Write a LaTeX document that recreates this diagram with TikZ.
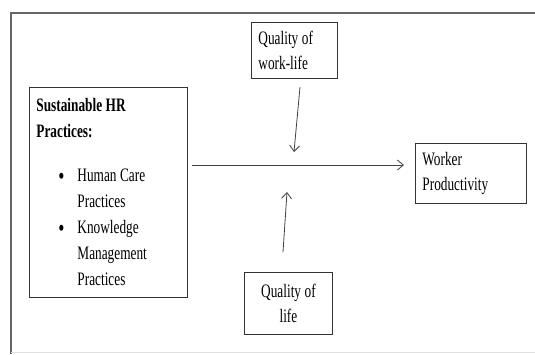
\documentclass[tikz,border=0pt]{standalone}
\usepackage{fontspec}
\setmainfont{Liberation Serif}[FakeStretch=0.7]
\usetikzlibrary{arrows.meta}
\newcommand{\tightspaces}{\spaceskip=3.5pt\relax}

\begin{document}
\begin{tikzpicture}
[x=1pt,y=-1pt,
  boxdecorate/.style={draw=black!80,line width=0.9pt,inner xsep=7pt,inner ysep=4pt,
    anchor=north west,align=left,font=\fontsize{19}{25}\selectfont,
    execute at begin node=\tightspaces},
  arrowdecorate/.style={-{Straight Barb[length=6pt,width=10pt]},draw=black!75,line width=0.8pt},
  framedecorate/.style={draw=black!60,line width=1.6pt}]
\useasboundingbox (0,0) rectangle (535,354);
%% outer frame
\draw[framedecorate] (11,354) -- (11,13) -- (535,13);
\draw[black!12,line width=0.8pt] (11,352) -- (535,352);
%% boxes
\node (qwl) at (251,22) [boxdecorate,text width=72pt,minimum height=56pt] {Quality of\\work-life};
\node (hr) at (29,87) [boxdecorate,text width=144pt,minimum height=210pt,font=\fontsize{19}{26}\selectfont]
  {\textbf{Sustainable HR}\\\textbf{Practices:}\\[18pt]
   \hspace*{22pt}\makebox[19pt][l]{\raisebox{-2.5pt}{\fontsize{25}{25}\selectfont\textbullet}}Human Care\\
   \hspace*{41pt}Practices\\
   \hspace*{22pt}\makebox[19pt][l]{\raisebox{-2.5pt}{\fontsize{25}{25}\selectfont\textbullet}}Knowledge\\
   \hspace*{41pt}Management\\
   \hspace*{41pt}Practices};
\node (wp) at (415,143) [boxdecorate,text width=97pt,minimum height=60pt] {Worker\\Productivity};
\node (ql) at (244,272) [boxdecorate,text width=74pt,minimum height=62pt,align=center] {Quality of\\life};
%% arrow ends
\coordinate (hrtail) at (192,165);
\coordinate (wphead) at (404,165);
\coordinate (qwltail) at (300,87);
\coordinate (qwlhead) at (294,152);
\coordinate (qltail) at (283,252);
\coordinate (qlhead) at (287,192);
%% arrows
\path
\foreach \startnode/\endnode in {hrtail/wphead, qwltail/qwlhead, qltail/qlhead} {
  (\startnode) edge[arrowdecorate] (\endnode)
};
\end{tikzpicture}
\end{document}
